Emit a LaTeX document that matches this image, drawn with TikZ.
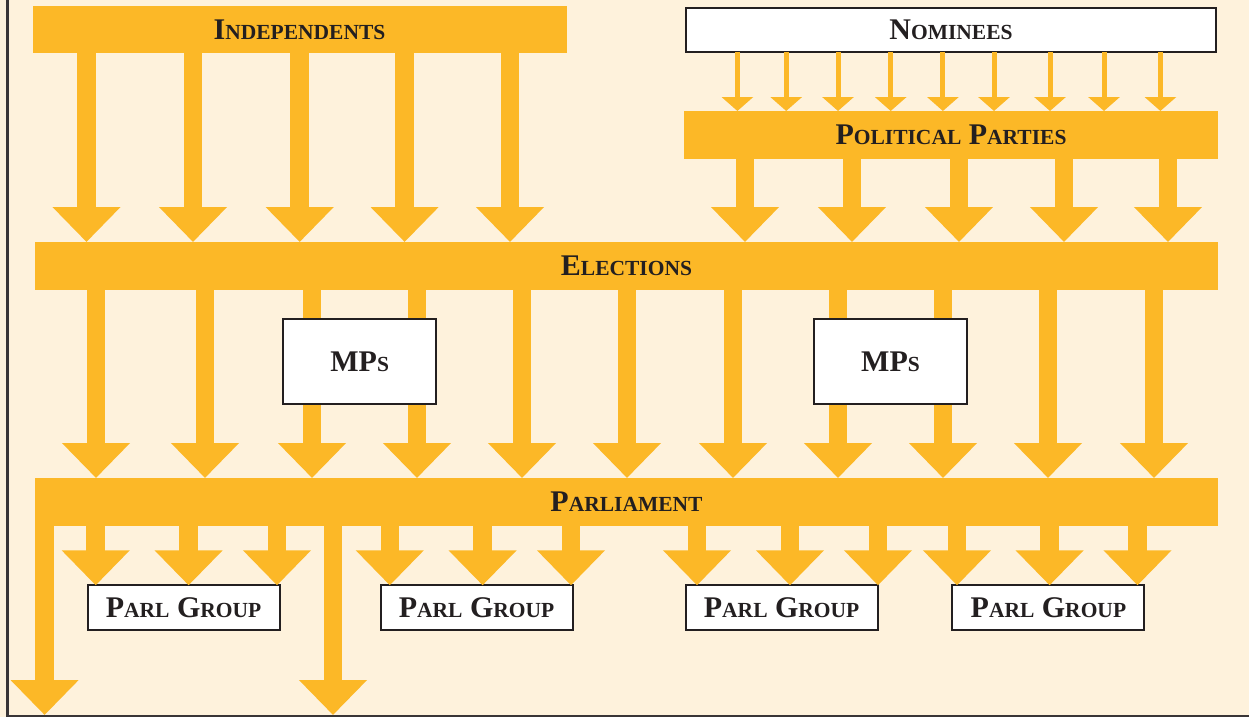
\documentclass[tikz,border=0pt]{standalone}
\usepackage{fontspec}
\setmainfont{Liberation Serif}
\usetikzlibrary{arrows.meta}
\definecolor{bg}{HTML}{FEF2DC}
\definecolor{org}{HTML}{FCB827}
\definecolor{ink}{HTML}{231F20}
\newcommand\bigc[1]{{\fontsize{30}{30}\selectfont #1}}
\newcommand\smc[1]{{\fontsize{21.5}{21.5}\selectfont #1}}
\begin{document}
\begin{tikzpicture}[x=1pt,y=-1pt,
  bar/.style={fill=org, inner sep=0pt, outer sep=0pt, font=\bfseries\fontsize{30}{30}\selectfont, text=ink},
  wbox/.style={fill=white, draw=ink, line width=2pt, inner sep=0pt, outer sep=0pt, font=\bfseries\fontsize{30}{30}\selectfont, text=ink},
  bigarrow/.style={draw=org, line width=18.5pt, -{Triangle[width=66pt,length=35pt]}},
  thinarrow/.style={draw=org, line width=5pt, -{Triangle[width=31pt,length=14pt]}},
  frameline/.style={draw=ink!90, line width=2.5pt}]
\fill[bg] (0,0) rectangle (1249,717);
\useasboundingbox (0,0) rectangle (1249,717);
\draw[frameline] (7.5,0) -- (7.5,716) -- (1249,716);

% bars
\node[bar, minimum width=534pt, minimum height=47.6pt] (ind) at (299.5,29.5) {\bigc{I}\smc{NDEPENDENTS}};
\node[bar, minimum width=534pt, minimum height=48pt] (pp) at (951,135) {\bigc{P}\smc{OLITICAL} \bigc{P}\smc{ARTIES}};
\node[bar, minimum width=1183pt, minimum height=48pt] (elec) at (626.5,266) {\bigc{E}\smc{LECTIONS}};
\node[bar, minimum width=1183pt, minimum height=48pt] (parl) at (626.5,502) {\bigc{P}\smc{ARLIAMENT}};

% white boxes
\node[wbox, minimum width=530pt, minimum height=44pt] (nom) at (951,29.7) {\bigc{N}\smc{OMINEES}};
\node[wbox, minimum width=192pt, minimum height=45pt] (pg1) at (183.6,607.8) {\bigc{P}\smc{ARL} \bigc{G}\smc{ROUP}};
\node[wbox, minimum width=192pt, minimum height=45pt] (pg2) at (476.6,607.8) {\bigc{P}\smc{ARL} \bigc{G}\smc{ROUP}};
\node[wbox, minimum width=192pt, minimum height=45pt] (pg3) at (781.6,607.8) {\bigc{P}\smc{ARL} \bigc{G}\smc{ROUP}};
\node[wbox, minimum width=192pt, minimum height=45pt] (pg4) at (1048.4,607.8) {\bigc{P}\smc{ARL} \bigc{G}\smc{ROUP}};

% arrows
\foreach \x in {737.4,786.2,838,890.7,942.9,994,1050,1104,1160.4}
  \draw[thinarrow] (nom.south -| \x,0) -- (pp.north -| \x,0);
\foreach \x in {86.5,193,299.7,404.6,510}
  \draw[bigarrow] (ind.south -| \x,0) -- (elec.north -| \x,0);
\foreach \x in {745,852,959,1064,1168}
  \draw[bigarrow] (pp.south -| \x,0) -- (elec.north -| \x,0);
\foreach \x in {96,205,312,417,522,627,733,838,943,1048,1154}
  \draw[bigarrow] (elec.south -| \x,0) -- (parl.north -| \x,0);
\foreach \x in {95.7,188.6,277}
  \draw[bigarrow] (parl.south -| \x,0) -- (pg1.north -| \x,0);
\foreach \x in {389.8,482.6,571}
  \draw[bigarrow] (parl.south -| \x,0) -- (pg2.north -| \x,0);
\foreach \x in {697,790,878}
  \draw[bigarrow] (parl.south -| \x,0) -- (pg3.north -| \x,0);
\foreach \x in {957,1049.6,1137.5}
  \draw[bigarrow] (parl.south -| \x,0) -- (pg4.north -| \x,0);
\coordinate (out1) at (44.6,715);
\coordinate (out2) at (333,715);
\draw[bigarrow] (parl.south -| out1) -- (out1);
\draw[bigarrow] (parl.south -| out2) -- (out2);

% MPs boxes on top of the arrows
\node[wbox, minimum width=153pt, minimum height=85pt] (mps1) at (359.7,361.3) {\bigc{MP}\smc{S}};
\node[wbox, minimum width=153pt, minimum height=85pt] (mps2) at (890.5,361.3) {\bigc{MP}\smc{S}};
\end{tikzpicture}
\end{document}
